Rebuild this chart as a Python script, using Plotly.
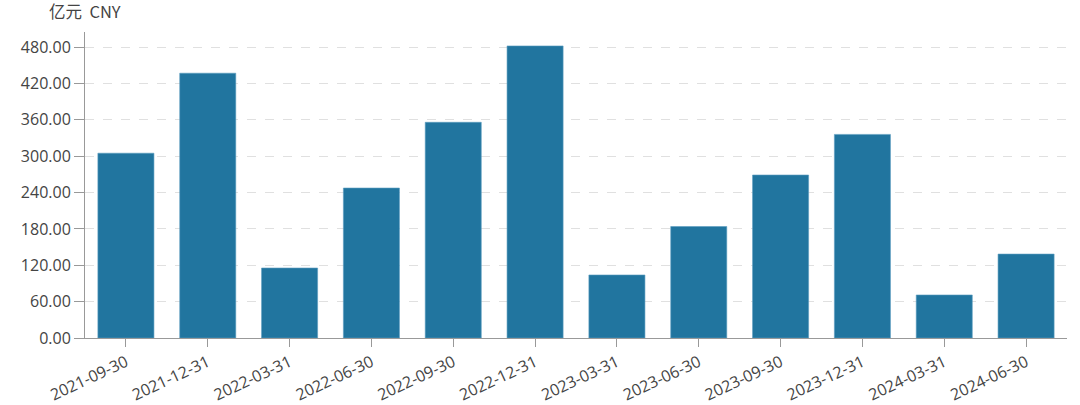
import plotly.graph_objects as go

categories = ["2021-09-30", "2021-12-31", "2022-03-31", "2022-06-30", "2022-09-30", "2022-12-31",
              "2023-03-31", "2023-06-30", "2023-09-30", "2023-12-31", "2024-03-31", "2024-06-30"]
values = [305.0, 437.0, 115.5, 247.5, 356.0, 482.0, 104.0, 184.0, 269.0, 336.0, 71.0, 138.5]
y_ticks = [0, 60, 120, 180, 240, 300, 360, 420, 480]
unit_label = "亿元  CNY"

fig = go.Figure(go.Bar(
    x=categories, y=values,
    marker=dict(color="#21759f", line=dict(color="#5a9cc0", width=0.6)),
))

fig.update_layout(
    width=1080, height=405,
    margin=dict(l=85, r=13, t=32, b=67, autoexpand=False),
    paper_bgcolor="white", plot_bgcolor="white",
    font=dict(family="Open Sans, Noto Sans, sans-serif", size=16, color="#444"),
    bargap=0.315,
    showlegend=False,
    annotations=[dict(text=unit_label, x=0, y=1.0, xref="paper", yref="paper",
                      xanchor="center", yanchor="bottom", yshift=7,
                      showarrow=False, font=dict(size=16.5, color="#444",
                                                 family="Noto Sans CJK SC, Open Sans, sans-serif"))],
)
fig.update_xaxes(
    type="category", tickangle=-25, showline=True, linecolor="#999", linewidth=1,
    ticks="outside", ticklen=8, tickcolor="#999", showgrid=False, automargin=False,
    tickfont=dict(size=16, color="#444"),
)
fig.update_yaxes(
    range=[0, 505], tickvals=y_ticks, tickformat=".2f", automargin=False,
    showline=True, linecolor="#999", linewidth=1,
    ticks="outside", ticklen=10, tickcolor="#999",
    showgrid=True, gridcolor="#e0e0e0", griddash="dash", gridwidth=1,
    zeroline=False, tickfont=dict(size=16, color="#444"),
)

fig.write_html("out.html", config={"displayModeBar": False},
               post_script="document.body.style.margin='0';")
